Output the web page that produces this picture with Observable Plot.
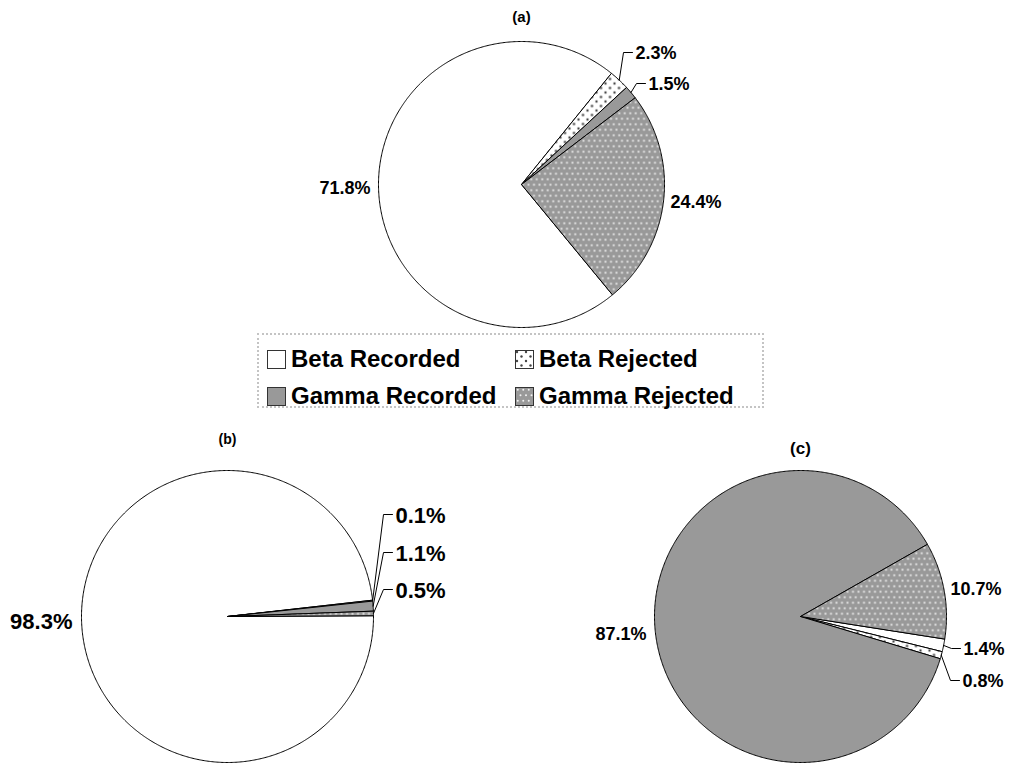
<!DOCTYPE html>
<html><head><meta charset="utf-8">
<script src="https://cdn.jsdelivr.net/npm/d3@7"></script>
<script src="https://cdn.jsdelivr.net/npm/@observablehq/plot@0.6"></script>
<style>
body{margin:0;background:#fff;font-family:"Liberation Sans",Arial,sans-serif;}
#wrap{position:relative;width:1009px;height:763px;overflow:hidden;background:#fff}
#wrap svg.plot{position:absolute;left:0;top:0}
#legend{position:absolute;left:257px;top:333px;width:503px;height:71px;border:2px dotted #c4c4c4;background:#fff}
.item{position:absolute;display:flex;align-items:center;height:28px;font-weight:bold;font-size:24px;color:#000;white-space:nowrap}
.item svg{margin-right:5px}
</style>
</head><body>
<div id="wrap"><div id="legend"></div></div>
<script>
// ---- data ----
const categories = ["Beta Recorded", "Beta Rejected", "Gamma Recorded", "Gamma Rejected"];
const pieNames = ["(a)", "(b)", "(c)"];
const valuesA = [71.8, 2.3, 1.5, 24.4];
const valuesB = [98.3, 0.1, 1.1, 0.5];
const valuesC = [1.4, 0.8, 87.1, 10.7];

// ---- styling / layout ----
const fills = {
  "Beta Recorded": "#ffffff",
  "Beta Rejected": "url(#patBetaRej)",
  "Gamma Recorded": "#999999",
  "Gamma Rejected": "url(#patGammaRej)"
};
const pies = [
  {name: pieNames[0], values: valuesA, cx: 521, cy: 184, r: 143, start: 140.5, titleY: 17, titleSize: 15, labelSize: 18,
   labels: [{x: 370, y: 188, a: "end"}, {x: 635, y: 53, a: "start", lead: true}, {x: 648, y: 84, a: "start", lead: true}, {x: 670, y: 202, a: "start"}]},
  {name: pieNames[1], values: valuesB, cx: 227, cy: 616, r: 146, start: 89.7, titleY: 439, titleSize: 14, labelSize: 22,
   labels: [{x: 72, y: 621, a: "end"}, {x: 395, y: 515, a: "start", lead: true}, {x: 395, y: 553, a: "start", lead: true}, {x: 395, y: 590, a: "start", lead: true}]},
  {name: pieNames[2], values: valuesC, cx: 800, cy: 616, r: 146, start: 98.9, titleY: 448, titleSize: 17, labelSize: 18,
   labels: [{x: 963, y: 649, a: "start", lead: true}, {x: 962, y: 681, a: "start", lead: true}, {x: 646, y: 634, a: "end"}, {x: 950, y: 589, a: "start"}]}
];

const rad = Math.PI / 180;
const slicePts = [];
const leaderPts = [];
const labelRows = [];
const titleRows = [];
pies.forEach(p => {
  const total = d3.sum(p.values);
  let a = p.start;
  titleRows.push({x: p.cx, y: p.titleY, text: p.name, size: p.titleSize});
  p.values.forEach((v, i) => {
    const span = v / total * 360;
    const a0 = a, a1 = a + span;
    const key = p.name + categories[i];
    const pt = (ang, rr) => ({x: p.cx + rr * Math.sin(ang * rad), y: p.cy - rr * Math.cos(ang * rad)});
    const pts = [{x: p.cx, y: p.cy}];
    const n = Math.max(2, Math.ceil(span / 0.5));
    for (let k = 0; k <= n; k++) pts.push(pt(a0 + span * k / n, p.r));
    pts.push({x: p.cx, y: p.cy});
    pts.forEach(q => slicePts.push({...q, key, fill: fills[categories[i]]}));
    const L = p.labels[i];
    labelRows.push({x: L.x, y: L.y, text: v.toFixed(1) + "%", anchor: L.a, size: p.labelSize});
    if (L.lead) {
      const m = pt((a0 + a1) / 2, p.r);
      [m, {x: L.x - 12, y: L.y - 1}, {x: L.x - 3, y: L.y - 1}].forEach(q => leaderPts.push({...q, key}));
    }
    a = a1;
  });
});

const font = "'Liberation Sans', Arial, sans-serif";
const textMarks = [];
for (const anchor of ["start", "end"]) {
  for (const size of [18, 22]) {
    const rows = labelRows.filter(d => d.anchor === anchor && d.size === size);
    if (rows.length) textMarks.push(Plot.text(rows, {x: "x", y: "y", text: "text", textAnchor: anchor, fontSize: size, fontWeight: "bold", fontFamily: font, fill: "#000"}));
  }
}
for (const t of titleRows) {
  textMarks.push(Plot.text([t], {x: "x", y: "y", text: "text", textAnchor: "middle", fontSize: t.size, fontWeight: "bold", fontFamily: font, fill: "#000"}));
}

const chart = Plot.plot({
  width: 1009, height: 763, margin: 0,
  x: {domain: [0, 1009], range: [0, 1009], axis: null},
  y: {domain: [0, 763], range: [0, 763], axis: null},
  color: {type: "identity"},
  style: {background: "#fff", overflow: "visible"},
  marks: [
    Plot.line(slicePts, {x: "x", y: "y", z: "key", fill: "fill", stroke: "#000", strokeWidth: 1, strokeLinejoin: "round"}),
    Plot.line(leaderPts, {x: "x", y: "y", z: "key", stroke: "#000", strokeWidth: 1}),
    ...textMarks
  ]
});
chart.classList.add("plot");

function addDefs(svgSel) {
  const defs = svgSel.insert("defs", ":first-child");
  const p1 = defs.append("pattern").attr("id", "patBetaRej").attr("patternUnits", "userSpaceOnUse").attr("width", 9).attr("height", 9);
  p1.append("rect").attr("width", 9).attr("height", 9).attr("fill", "#fff");
  p1.append("circle").attr("cx", 2).attr("cy", 2).attr("r", 1.2).attr("fill", "#444");
  p1.append("circle").attr("cx", 6.5).attr("cy", 6.5).attr("r", 1.2).attr("fill", "#444");
  const p2 = defs.append("pattern").attr("id", "patGammaRej").attr("patternUnits", "userSpaceOnUse").attr("width", 11).attr("height", 11);
  p2.append("rect").attr("width", 11).attr("height", 11).attr("fill", "#999");
  [[2.75, 2.75], [8.25, 2.75], [0, 8.25], [5.5, 8.25], [11, 8.25]].forEach(([cx, cy]) =>
    p2.append("circle").attr("cx", cx).attr("cy", cy).attr("r", 1.0).attr("fill", "#f2f2f2"));
}
const svgSel = d3.select(chart.tagName.toLowerCase() === "svg" ? chart : chart.querySelector("svg"));
addDefs(svgSel);
const wrap = document.getElementById("wrap");
wrap.insertBefore(chart, wrap.firstChild);

// ---- legend ----
const legend = d3.select("#legend");
const legPos = [[8, 10], [256, 10], [8, 47], [256, 47]];
categories.forEach((c, i) => {
  const it = legend.append("div").attr("class", "item").style("left", legPos[i][0] + "px").style("top", legPos[i][1] + "px");
  const sw = it.append("svg").attr("width", 19).attr("height", 19);
  sw.append("rect").attr("x", 0.5).attr("y", 0.5).attr("width", 18).attr("height", 18).attr("fill", fills[c]).attr("stroke", "#333").attr("stroke-width", 1);
  it.append("span").text(c);
});
</script>
</body></html>
